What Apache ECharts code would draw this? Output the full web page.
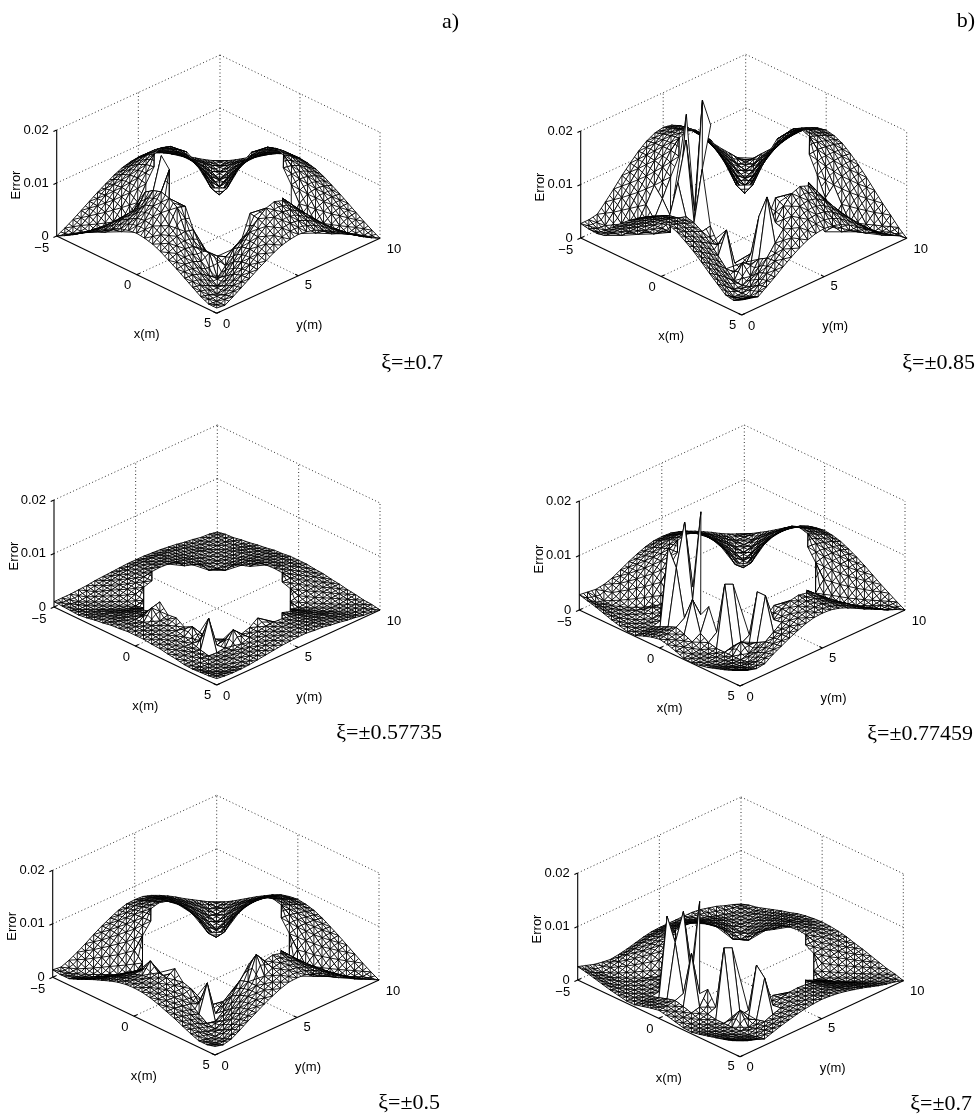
<!DOCTYPE html>
<html lang="en">

<head>
    <meta charset="UTF-8">
    <title>error surfaces</title>
    <style>
        html,
        body,
        #chart {
            margin: 0;
            padding: 0;
            overflow: hidden;
            width: 977px;
            height: 1115px;
            background: #fff;
        }
    </style>
</head>

<body>
    <div id="chart"></div>
    <script src="https://cdn.jsdelivr.net/npm/echarts@6/dist/echarts.min.js"></script>
    <script>
        var _ = null; // no surface there (hole in the middle)

        var xTicks = [-5, 0, 5];
        var yTicks = [0, 5, 10];
        var zTicks = [0, 0.01, 0.02];
        var xTickLabels = ["\u22125", "0", "5"];
        var yTickLabels = ["0", "5", "10"];
        var zTickLabels = ["0", "0.01", "0.02"];

        // heights, in units of 1e-4
        // rows: x = -5..5, columns: y = 0..10, step 0.5
        var surfaceA07 = [
            [0,8,17,27,37,47,56,65,72,76,78,76,72,65,56,47,37,27,17,8,0],
            [8,5,13,24,36,49,62,74,83,90,92,90,83,74,62,49,36,24,13,5,8],
            [17,13,8,16,31,47,64,80,93,103,106,103,93,80,64,47,31,16,8,13,17],
            [27,24,16,8,20,40,61,82,100,113,118,113,100,82,61,40,20,8,16,24,27],
            [37,36,31,20,9,25,50,78,103,_,_,_,103,78,50,25,9,20,31,36,37],
            [47,49,47,40,25,8,28,_,_,_,_,_,_,_,28,8,25,40,47,49,47],
            [56,62,64,61,50,28,_,_,_,_,_,_,_,_,_,28,50,61,64,62,56],
            [65,74,80,82,78,_,_,_,_,_,_,_,_,_,_,_,78,82,80,74,65],
            [72,83,93,120,115,_,_,_,_,_,_,_,_,_,_,_,103,100,93,83,72],
            [76,92,110,130,_,_,_,_,_,_,_,_,_,_,_,_,_,113,103,90,76],
            [78,95,115,135,_,_,_,_,_,_,_,_,_,_,_,_,_,118,106,92,78],
            [76,92,110,130,_,_,_,_,_,_,_,_,_,_,_,_,_,113,103,90,76],
            [72,83,93,120,115,_,_,_,_,_,_,_,_,_,_,_,103,100,93,83,72],
            [65,74,80,82,78,_,_,_,_,_,_,_,_,_,_,_,78,82,80,74,65],
            [56,62,64,61,50,28,_,_,_,_,_,_,_,_,_,28,50,61,64,62,56],
            [47,49,47,40,25,8,28,_,_,_,_,_,_,_,28,8,25,40,47,49,47],
            [37,36,31,20,9,25,50,78,103,_,_,_,103,78,50,25,9,20,31,36,37],
            [27,24,16,8,20,40,61,82,100,113,118,113,100,82,61,40,20,8,16,24,27],
            [17,13,8,16,31,47,64,80,93,103,106,103,93,80,64,47,31,16,8,13,17],
            [10,8,13,24,36,49,62,74,83,90,92,90,83,74,62,49,36,24,13,5,8],
            [10,8,17,27,37,47,56,65,72,76,78,76,72,65,56,47,37,27,17,8,0]
        ];
        var peaksA07 = [[9,4,189],[10,4,170],[15,5,36],[15,4,49],[16,7,62]];

        var surfaceA057735 = [
            [10,10,10,11,12,14,15,16,17,18,18,18,17,16,14,12,9,7,4,3,0],
            [9,6,3,5,8,12,15,18,20,22,22,22,20,18,15,12,8,5,3,3,3],
            [8,3,3,3,7,11,14,18,21,23,24,23,21,18,14,11,7,3,3,3,4],
            [7,5,3,3,4,8,13,18,22,25,26,25,22,18,13,8,4,3,3,5,7],
            [9,8,7,4,3,5,11,17,22,_,_,_,22,17,11,5,3,4,7,8,9],
            [12,12,11,8,5,3,7,_,_,_,_,_,_,_,7,3,5,8,11,12,12],
            [14,15,14,13,11,7,_,_,_,_,_,_,_,_,_,7,11,13,14,15,14],
            [17,18,18,18,17,_,_,_,_,_,_,_,_,_,_,_,17,18,18,18,17],
            [18,20,21,22,22,_,_,_,_,_,_,_,_,_,_,_,22,22,21,20,18],
            [20,22,23,25,_,_,_,_,_,_,_,_,_,_,_,_,_,25,23,22,20],
            [20,22,24,26,_,_,_,_,_,_,_,_,_,_,_,_,_,26,24,22,20],
            [20,22,23,25,_,_,_,_,_,_,_,_,_,_,_,_,_,25,23,22,20],
            [18,20,21,22,22,_,_,_,_,_,_,_,_,_,_,_,22,22,21,20,18],
            [17,18,18,18,17,_,_,_,_,_,_,_,_,_,_,_,17,18,18,18,17],
            [14,15,14,13,11,7,_,_,_,_,_,_,_,_,_,7,11,13,14,15,14],
            [12,12,11,8,5,3,7,_,_,_,_,_,_,_,7,3,5,8,11,12,12],
            [9,8,7,4,3,5,11,17,22,_,_,_,22,17,11,5,3,4,7,8,9],
            [8,5,3,3,4,8,13,18,22,25,26,25,22,18,13,8,4,3,3,5,7],
            [9,4,3,3,7,11,14,18,21,23,24,23,21,18,14,11,7,3,3,3,4],
            [10,7,4,5,8,12,15,18,20,22,22,22,20,18,15,12,8,5,3,3,3],
            [12,10,9,9,10,12,14,16,18,19,20,20,18,17,14,12,9,7,4,3,0]
        ];
        var peaksA057735 = [[9,4,47],[15,4,60],[16,9,33],[9,3,43],[10,4,30],[11,4,32],[13,4,30],[16,6,32]];

        var surfaceA05 = [
            [14,12,18,26,35,45,54,62,69,74,75,74,69,62,54,45,35,26,17,8,0],
            [12,8,9,20,31,42,54,64,72,78,80,78,72,64,54,42,31,20,9,5,8],
            [12,8,6,11,24,38,52,65,76,83,86,83,76,65,52,38,24,11,6,10,17],
            [18,14,8,6,14,29,46,63,77,87,91,87,77,63,46,29,14,6,12,21,27],
            [25,21,16,9,6,17,37,58,78,_,_,_,78,58,37,17,6,15,26,33,37],
            [32,29,25,19,11,6,21,_,_,_,_,_,_,_,21,6,19,32,40,45,47],
            [38,37,34,31,24,13,_,_,_,_,_,_,_,_,_,23,41,51,55,57,56],
            [44,44,43,41,37,_,_,_,_,_,_,_,_,_,_,_,64,69,69,68,65],
            [49,50,50,51,50,_,_,_,_,_,_,_,_,_,_,_,86,85,81,77,72],
            [52,54,55,58,_,_,_,_,_,_,_,_,_,_,_,_,_,96,89,83,76],
            [53,55,57,60,_,_,_,_,_,_,_,_,_,_,_,_,_,100,92,85,78],
            [52,54,55,58,_,_,_,_,_,_,_,_,_,_,_,_,_,96,89,83,76],
            [49,50,50,51,50,_,_,_,_,_,_,_,_,_,_,_,86,85,81,77,72],
            [44,44,43,41,37,_,_,_,_,_,_,_,_,_,_,_,64,69,69,68,65],
            [38,37,34,31,24,13,_,_,_,_,_,_,_,_,_,23,41,51,55,57,56],
            [32,29,25,19,11,6,22,_,_,_,_,_,_,_,22,6,19,32,40,45,47],
            [25,21,16,9,6,18,39,61,82,_,_,_,82,61,39,18,6,15,26,33,37],
            [18,14,8,6,14,30,48,66,81,91,95,91,81,66,48,30,14,6,12,21,27],
            [12,8,6,11,25,39,53,66,77,85,88,85,77,66,53,39,25,11,6,10,17],
            [12,8,9,20,31,43,54,65,73,79,81,79,73,65,54,43,31,20,9,6,8],
            [16,12,16,25,35,44,53,61,68,73,74,73,68,61,53,44,35,25,16,8,0]
        ];
        var peaksA05 = [[9,3,75],[11,4,68],[15,4,70],[13,4,45],[17,8,110],[10,4,40]];

        var surfaceB085 = [
            [27,27,30,46,63,81,97,112,124,132,135,132,124,112,97,81,63,46,30,14,2],
            [24,18,16,34,54,74,94,112,127,137,140,137,127,112,94,74,54,34,16,12,13],
            [23,12,12,19,41,64,87,109,128,141,145,141,128,109,87,64,41,19,12,16,29],
            [36,25,12,12,23,48,77,104,128,144,150,144,128,104,77,48,23,12,19,34,44],
            [49,39,27,14,12,28,59,93,124,_,_,_,124,93,59,28,12,23,41,53,61],
            [63,53,42,29,15,12,34,_,_,_,_,_,_,_,34,12,29,49,64,73,78],
            [76,67,57,46,33,18,_,_,_,_,_,_,_,_,_,35,61,78,87,92,94],
            [87,80,71,62,52,_,_,_,_,_,_,_,_,_,_,_,96,106,109,110,108],
            [97,91,84,77,69,_,_,_,_,_,_,_,_,_,_,_,128,130,128,125,120],
            [103,98,92,86,_,_,_,_,_,_,_,_,_,_,_,_,_,147,141,135,127],
            [105,100,95,90,_,_,_,_,_,_,_,_,_,_,_,_,_,153,145,138,130],
            [103,98,92,86,_,_,_,_,_,_,_,_,_,_,_,_,_,147,141,135,127],
            [97,91,84,77,69,_,_,_,_,_,_,_,_,_,_,_,128,130,128,125,120],
            [87,80,71,62,52,_,_,_,_,_,_,_,_,_,_,_,96,106,109,110,108],
            [76,67,57,46,33,18,_,_,_,_,_,_,_,_,_,35,61,78,87,92,94],
            [63,53,42,29,15,12,36,_,_,_,_,_,_,_,36,12,29,49,64,73,78],
            [49,39,27,14,12,30,63,100,133,_,_,_,133,100,63,30,12,23,41,53,61],
            [36,25,12,12,22,47,75,101,125,141,147,141,125,101,75,47,22,12,19,34,44],
            [23,12,12,17,36,56,77,96,113,124,128,124,113,96,77,56,36,17,12,16,29],
            [20,16,13,27,42,58,73,87,99,107,109,107,99,87,73,58,42,27,13,12,13],
            [28,24,20,31,42,54,65,75,83,88,90,88,83,75,65,54,42,31,20,12,0]
        ];
        var peaksB085 = [[8,4,70],[8,5,253],[9,3,147],[9,4,219],[9,5,80],[10,4,70],[10,5,294],[10,6,240],[11,4,179],[12,4,80],[14,4,87],[16,4,40],[16,6,113],[17,6,156]];

        var surfaceB077459 = [
            [28,26,24,26,31,39,47,54,60,64,65,64,60,54,47,39,31,22,14,7,0],
            [24,14,10,18,28,39,49,58,66,72,73,72,66,58,49,39,28,18,9,8,8],
            [20,12,8,11,23,36,49,62,72,80,82,80,72,62,49,36,23,11,8,10,17],
            [15,9,7,5,14,29,46,62,77,86,90,86,77,62,46,29,14,8,12,21,26],
            [10,6,5,6,5,18,37,59,78,_,_,_,78,59,37,18,8,15,26,33,36],
            [6,3,3,7,12,10,21,_,_,_,_,_,_,_,21,8,20,33,41,45,46],
            [2,2,3,5,9,9,_,_,_,_,_,_,_,_,_,24,42,52,56,57,55],
            [2,3,4,8,18,_,_,_,_,_,_,_,_,_,_,_,66,70,70,68,63],
            [8,9,11,20,28,_,_,_,_,_,_,_,_,_,_,_,88,87,82,77,70],
            [13,15,18,30,_,_,_,_,_,_,_,_,_,_,_,_,_,98,90,83,74],
            [16,19,24,34,_,_,_,_,_,_,_,_,_,_,_,_,_,102,93,85,76],
            [13,15,18,28,_,_,_,_,_,_,_,_,_,_,_,_,_,98,90,83,74],
            [8,9,11,20,28,_,_,_,_,_,_,_,_,_,_,_,88,87,82,77,70],
            [2,3,4,10,22,_,_,_,_,_,_,_,_,_,_,_,66,70,70,68,63],
            [1,2,3,6,14,9,_,_,_,_,_,_,_,_,_,24,42,52,56,57,55],
            [3,2,4,6,10,8,17,_,_,_,_,_,_,_,17,8,20,33,41,45,46],
            [6,4,5,6,5,14,30,48,64,_,_,_,64,48,30,14,8,15,26,33,36],
            [11,8,7,6,11,24,39,52,65,73,76,73,65,52,39,24,11,8,12,21,26],
            [16,13,9,9,20,32,43,54,63,70,72,70,63,54,43,32,20,9,8,10,17],
            [22,15,13,17,26,36,46,54,62,67,68,67,62,54,46,36,26,17,8,8,8],
            [29,22,18,20,30,38,46,53,59,63,64,63,59,53,46,38,30,22,14,8,0]
        ];
        var peaksB077459 = [[8,3,149],[8,4,40],[9,3,119],[9,4,196],[9,5,70],[10,4,60],[10,5,215],[11,3,75],[11,4,40],[12,4,62],[14,4,117],[14,5,110],[16,4,25],[16,6,103],[17,6,103]];

        var surfaceB07 = [
            [25,20,15,12,10,12,15,19,23,26,27,27,27,27,27,25,21,17,11,6,0],
            [22,14,7,9,13,19,23,28,32,34,35,34,32,28,23,19,13,9,5,5,5],
            [18,10,5,6,12,19,26,32,38,42,43,42,38,32,26,19,12,6,5,5,8],
            [14,7,5,4,8,17,27,36,44,50,52,50,44,36,27,17,8,5,6,10,13],
            [10,6,4,4,4,11,23,36,48,_,_,_,48,36,23,11,5,7,12,15,18],
            [7,4,3,4,8,7,13,_,_,_,_,_,_,_,13,5,9,14,19,21,23],
            [4,3,3,5,8,8,_,_,_,_,_,_,_,_,_,11,18,23,26,27,27],
            [4,4,5,7,13,_,_,_,_,_,_,_,_,_,_,_,29,31,32,32,32],
            [8,9,10,14,20,_,_,_,_,_,_,_,_,_,_,_,38,38,38,36,35],
            [12,13,15,22,_,_,_,_,_,_,_,_,_,_,_,_,_,43,42,39,37],
            [15,16,19,25,_,_,_,_,_,_,_,_,_,_,_,_,_,45,43,40,38],
            [12,13,15,20,_,_,_,_,_,_,_,_,_,_,_,_,_,43,42,39,37],
            [8,9,10,14,20,_,_,_,_,_,_,_,_,_,_,_,38,38,38,36,35],
            [4,4,5,8,14,_,_,_,_,_,_,_,_,_,_,_,29,31,32,32,32],
            [3,3,3,5,9,8,_,_,_,_,_,_,_,_,_,11,18,23,26,27,27],
            [6,4,4,5,7,6,8,_,_,_,_,_,_,_,8,5,9,14,19,21,23],
            [10,7,5,5,5,6,14,22,29,_,_,_,29,22,14,6,5,7,12,15,18],
            [14,10,6,5,5,12,18,25,31,35,36,35,31,25,18,12,5,5,6,10,13],
            [18,12,8,5,10,16,22,27,32,35,36,35,32,27,22,16,10,5,5,5,8],
            [23,16,11,9,14,19,24,29,33,35,36,35,33,29,24,19,14,9,5,5,5],
            [30,23,18,12,17,22,26,30,33,35,36,35,33,30,26,22,17,12,8,5,0]
        ];
        var peaksB07 = [[8,3,155],[8,4,25],[9,3,113],[9,4,164],[9,5,50],[10,4,40],[10,5,183],[11,3,107],[11,4,25],[12,4,40],[14,4,132],[14,5,125],[16,4,30],[16,6,100],[17,6,83]];

        // where each box sits on the page: corners of the floor and height of the z axis
        var panels = [
            { z: surfaceA07, peaks: peaksA07, caption: "\u03BE=\u00B10.7", L: [56.7, 236], F: [216.7, 313.3], R: [380, 238.3], zPx: 106, capX: 443, capY: 362 },
            { z: surfaceB085, peaks: peaksB085, caption: "\u03BE=\u00B10.85", L: [580.7, 238], F: [741.7, 315], R: [906.7, 238.3], zPx: 107, capX: 975, capY: 362 },
            { z: surfaceA057735, peaks: peaksA057735, caption: "\u03BE=\u00B10.57735", L: [54, 607], F: [216.7, 685], R: [380, 610], zPx: 107, capX: 442, capY: 732 },
            { z: surfaceB077459, peaks: peaksB077459, caption: "\u03BE=\u00B10.77459", L: [579.3, 610], F: [740, 686], R: [905, 610], zPx: 109, capX: 973, capY: 733 },
            { z: surfaceA05, peaks: peaksA05, caption: "\u03BE=\u00B10.5", L: [52.7, 977.3], F: [215, 1055], R: [379, 980], zPx: 107, capX: 440, capY: 1102 },
            { z: surfaceB07, peaks: peaksB07, caption: "\u03BE=\u00B10.7", L: [577.7, 980], F: [740, 1056.7], R: [903.3, 980.7], zPx: 107, capX: 972, capY: 1103 }
        ];

        var chart = echarts.init(document.getElementById("chart"), null, { renderer: "canvas" });
        var grids = [], xAxes = [], yAxes = [], series = [], titles = [];

        function project(p, x, y, z) {
            var a = (5 - x) / 10, b = y / 10;
            return [
                (p.L[0] - p.F[0]) * a + (p.R[0] - p.F[0]) * b,
                (p.F[1] - p.L[1]) * a + (p.F[1] - p.R[1]) * b + z / 0.02 * p.zPx
            ];
        }

        function buildCells(p) {
            var rows = p.z.map(function (r) { return r.slice(); });
            p.peaks.forEach(function (s) { rows[s[0]][s[1]] = s[2]; });
            var cells = [];
            function vertex(i, j) {
                if (rows[i][j] === null) return null;
                return project(p, -5 + i / 2, j / 2, rows[i][j] * 1e-4);
            }
            for (var i = 0; i < 20; i++) {
                for (var j = 0; j < 20; j++) {
                    var v = [vertex(i, j), vertex(i + 1, j), vertex(i + 1, j + 1), vertex(i, j + 1)]
                        .filter(function (q) { return q; });
                    if (v.length < 3) continue;
                    if (v.length === 3) v.push(v[2]);
                    cells.push({ depth: j - i, value: v[0].concat(v[1], v[2], v[3]) });
                }
            }
            cells.sort(function (a, b) { return b.depth - a.depth; });
            return cells.map(function (c) { return c.value; });
        }

        function buildFrame(p) {
            var segs = [];
            function seg(a, b, dotted) {
                var p0 = project(p, a[0], a[1], a[2]), p1 = project(p, b[0], b[1], b[2]);
                segs.push([p0[0], p0[1], p1[0], p1[1], dotted]);
            }
            var x0 = xTicks[0], x1 = xTicks[2], y0 = yTicks[0], y1 = yTicks[2], zTop = zTicks[2];
            zTicks.forEach(function (z) {
                seg([x0, y0, z], [x0, y1, z], 1);
                seg([x0, y1, z], [x1, y1, z], 1);
            });
            seg([x0, yTicks[1], 0], [x0, yTicks[1], zTop], 1);
            seg([x0, y1, 0], [x0, y1, zTop], 1);
            seg([xTicks[1], y1, 0], [xTicks[1], y1, zTop], 1);
            seg([x1, y1, 0], [x1, y1, zTop], 1);
            seg([xTicks[1], y0, 0], [xTicks[1], y1, 0], 1);
            seg([x0, yTicks[1], 0], [x1, yTicks[1], 0], 1);
            seg([x0, y0, 0], [x1, y0, 0], 0);
            seg([x1, y0, 0], [x1, y1, 0], 0);
            seg([x0, y0, 0], [x0, y0, zTop], 0);
            zTicks.forEach(function (z) { seg([x0, y0, z], [x0, y0 - 0.2, z], 0); });
            xTicks.forEach(function (x) { seg([x, y0, 0], [x, y0 + 0.2, 0], 0); });
            yTicks.forEach(function (y) { seg([x1, y, 0], [x1 - 0.2, y, 0], 0); });
            return segs;
        }

        function buildLabels(p) {
            var x0 = xTicks[0], x1 = xTicks[2], y0 = yTicks[0];
            var items = [];
            var xOff = [[-15, 12], [-9, 11], [-9, 10]];
            var yOff = [[10, 11], [10, 10], [14, 11]];
            xTicks.forEach(function (x, k) {
                items.push({ at: project(p, x, y0, 0), off: xOff[k], text: xTickLabels[k] });
            });
            yTicks.forEach(function (y, k) {
                items.push({ at: project(p, x1, y, 0), off: yOff[k], text: yTickLabels[k] });
            });
            zTicks.forEach(function (z, k) {
                items.push({ at: project(p, x0, y0, z), off: [-8, 0], text: zTickLabels[k], align: "right" });
            });
            items.push({ at: project(p, xTicks[1], y0, 0), off: [10, 60], text: "x(m)" });
            items.push({ at: project(p, x1, yTicks[1], 0), off: [11, 50], text: "y(m)" });
            items.push({ at: project(p, x0, y0, 0), off: [-40, -51], text: "Error", rotate: true });
            return items;
        }

        function segment(a, b, style) {
            return { type: "line", shape: { x1: a[0], y1: a[1], x2: b[0], y2: b[1] }, style: style };
        }

        function middle(a, b) {
            return [(a[0] + b[0]) / 2, (a[1] + b[1]) / 2];
        }

        panels.forEach(function (p, n) {
            var height = (p.F[1] - p.L[1]) + (p.F[1] - p.R[1]) + p.zPx;
            grids.push({ left: p.L[0], top: p.F[1] - height, width: p.R[0] - p.L[0], height: height, show: false });
            xAxes.push({ type: "value", gridIndex: n, min: p.L[0] - p.F[0], max: p.R[0] - p.F[0], show: false });
            yAxes.push({ type: "value", gridIndex: n, min: 0, max: height, show: false });

            series.push({
                type: "custom", xAxisIndex: n, yAxisIndex: n, silent: true, animation: false, progressive: 0, z: 1,
                data: buildFrame(p),
                renderItem: function (params, api) {
                    var a = api.coord([api.value(0), api.value(1)]);
                    var b = api.coord([api.value(2), api.value(3)]);
                    var dotted = api.value(4) === 1;
                    return segment(a, b, { stroke: dotted ? "#333" : "#000", lineWidth: dotted ? 1 : 1.1, lineDash: dotted ? [1, 2.5] : null });
                }
            });

            series.push({
                type: "custom", xAxisIndex: n, yAxisIndex: n, silent: true, animation: false, progressive: 0, z: 2,
                data: buildCells(p),
                renderItem: function (params, api) {
                    var pts = [0, 2, 4, 6].map(function (k) { return api.coord([api.value(k), api.value(k + 1)]); });
                    var edge = { fill: "#fff", stroke: "#000", lineWidth: 0.9 };
                    var fine = { stroke: "#000", lineWidth: 0.9 };
                    var ys = pts.map(function (q) { return q[1]; });
                    var children = [{ type: "polygon", shape: { points: pts }, style: edge }];
                    // the printed mesh is a fine triangle net, spikes stay plain white
                    if (Math.max.apply(null, ys) - Math.min.apply(null, ys) < 32) {
                        children.push(
                            segment(pts[0], pts[2], fine),
                            segment(pts[1], pts[3], fine),
                            segment(middle(pts[0], pts[1]), middle(pts[2], pts[3]), fine),
                            segment(middle(pts[1], pts[2]), middle(pts[3], pts[0]), fine)
                        );
                    }
                    return { type: "group", children: children };
                }
            });

            var labels = buildLabels(p);
            series.push({
                type: "custom", xAxisIndex: n, yAxisIndex: n, silent: true, animation: false, progressive: 0, z: 3,
                data: labels.map(function (l) { return l.at; }),
                renderItem: function (params, api) {
                    var l = labels[params.dataIndex];
                    var c = api.coord([api.value(0), api.value(1)]);
                    return {
                        type: "text",
                        x: c[0] + l.off[0],
                        y: c[1] + l.off[1],
                        rotation: l.rotate ? Math.PI / 2 : 0,
                        style: {
                            text: l.text, fill: "#000",
                            font: "13px 'Liberation Sans'",
                            align: l.align || "center", verticalAlign: "middle"
                        }
                    };
                }
            });

            titles.push({
                text: p.caption, left: p.capX, top: p.capY - 10, textAlign: "right", padding: 0,
                textStyle: { fontFamily: "Liberation Serif", fontSize: 22, fontWeight: "normal", color: "#000" }
            });
        });

        titles.push({ text: "a)", left: 459, top: 11, textAlign: "right", padding: 0, textStyle: { fontFamily: "Liberation Serif", fontSize: 22, fontWeight: "normal", color: "#000" } });
        titles.push({ text: "b)", left: 975, top: 10, textAlign: "right", padding: 0, textStyle: { fontFamily: "Liberation Serif", fontSize: 22, fontWeight: "normal", color: "#000" } });

        chart.setOption({
            animation: false,
            backgroundColor: "#fff",
            title: titles,
            grid: grids,
            xAxis: xAxes,
            yAxis: yAxes,
            series: series
        });
    </script>
</body>

</html>
